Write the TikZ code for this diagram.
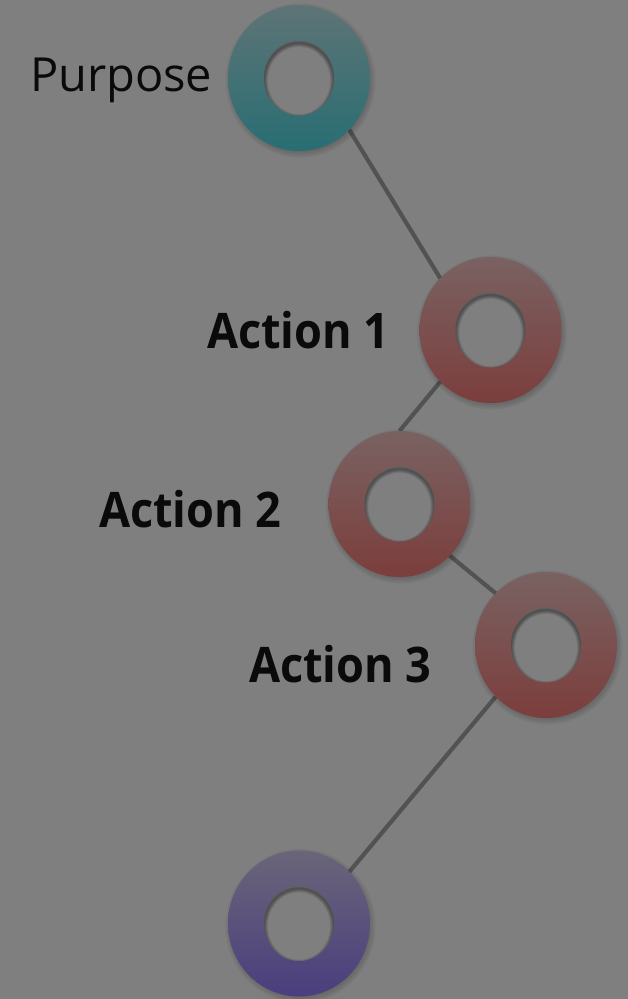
\documentclass[tikz,border=0pt]{standalone}
\usepackage{fontspec}
\setmainfont{Open Sans}
\newfontfamily\labfont[FakeStretch=0.92]{Open Sans}
\usetikzlibrary{shapes.geometric}
\definecolor{bg}{RGB}{127,127,127}
\definecolor{linecol}{RGB}{82,82,82}
\definecolor{tealtop}{RGB}{94,116,118}
\definecolor{tealbot}{RGB}{40,110,115}
\definecolor{redtop}{RGB}{122,98,98}
\definecolor{redbot}{RGB}{123,62,60}
\definecolor{purtop}{RGB}{106,101,121}
\definecolor{purbot}{RGB}{74,62,126}
\begin{document}
\begin{tikzpicture}[x=1pt,y=-1pt,
  ringgeom/.style={ellipse, minimum width=142pt, minimum height=146pt,
    inner sep=0pt, outer sep=0pt},
  ringshadow/.style={fill=black, opacity=0.05},
  holefill/.style={fill=bg, path picture={
      \foreach \w in {1,2,...,6}
        \draw[black, opacity=0.07, line width=\w*1.3pt]
          ([yshift=-2.5pt]path picture bounding box.center) ellipse (35pt and 37.5pt);}},
  conn/.style={draw=linecol, line width=4.2pt},
  lab/.style={anchor=base west, inner sep=0pt, outer sep=0pt, text=black!96},
  labreg/.style={lab, font=\fontsize{47}{56}\selectfont},
  labbold/.style={lab, font=\labfont\bfseries\fontsize{49}{58}\selectfont}]
\fill[bg] (0,0) rectangle (628,999);
\path[use as bounding box] (0,0) rectangle (628,999);

% ring nodes (geometry)
\node[ringgeom] (P)  at (299,78)    {};
\node[ringgeom] (A1) at (490.5,330) {};
\node[ringgeom] (A2) at (399.5,504) {};
\node[ringgeom] (A3) at (546,645)   {};
\node[ringgeom] (E)  at (299,923.5) {};

% connectors
\draw[conn] (P.south east)  -- (A1.north west);
\draw[conn] (A1.south west) -- (A2.north);
\draw[conn] (A2.south east) -- (A3.north west);
\draw[conn] (A3.south west) -- (E.north east);

% ring bodies with soft shadow and hole
\foreach \n/\ca/\cb in {P/tealtop/tealbot, A1/redtop/redbot, A2/redtop/redbot,
                        A3/redtop/redbot, E/purtop/purbot} {
  \foreach \r in {-2,0,2,4}
    \fill[ringshadow] ([shift={(1.5,2.5)}]\n.center) ellipse ({(71+\r)*1pt} and {(73+\r)*1pt});
  \shade[top color=\ca, bottom color=\cb] (\n.center) ellipse (71pt and 73pt);
  \path[holefill] (\n.center) ellipse (35pt and 37.5pt);
}

% labels
\node[labreg]  (tP)  at (30,91)   {Purpose};
\node[labbold] (tA1) at (207,348) {Action 1};
\node[labbold] (tA2) at (99,527)  {Action 2};
\node[labbold] (tA3) at (249,682) {Action 3};
\end{tikzpicture}
\end{document}
